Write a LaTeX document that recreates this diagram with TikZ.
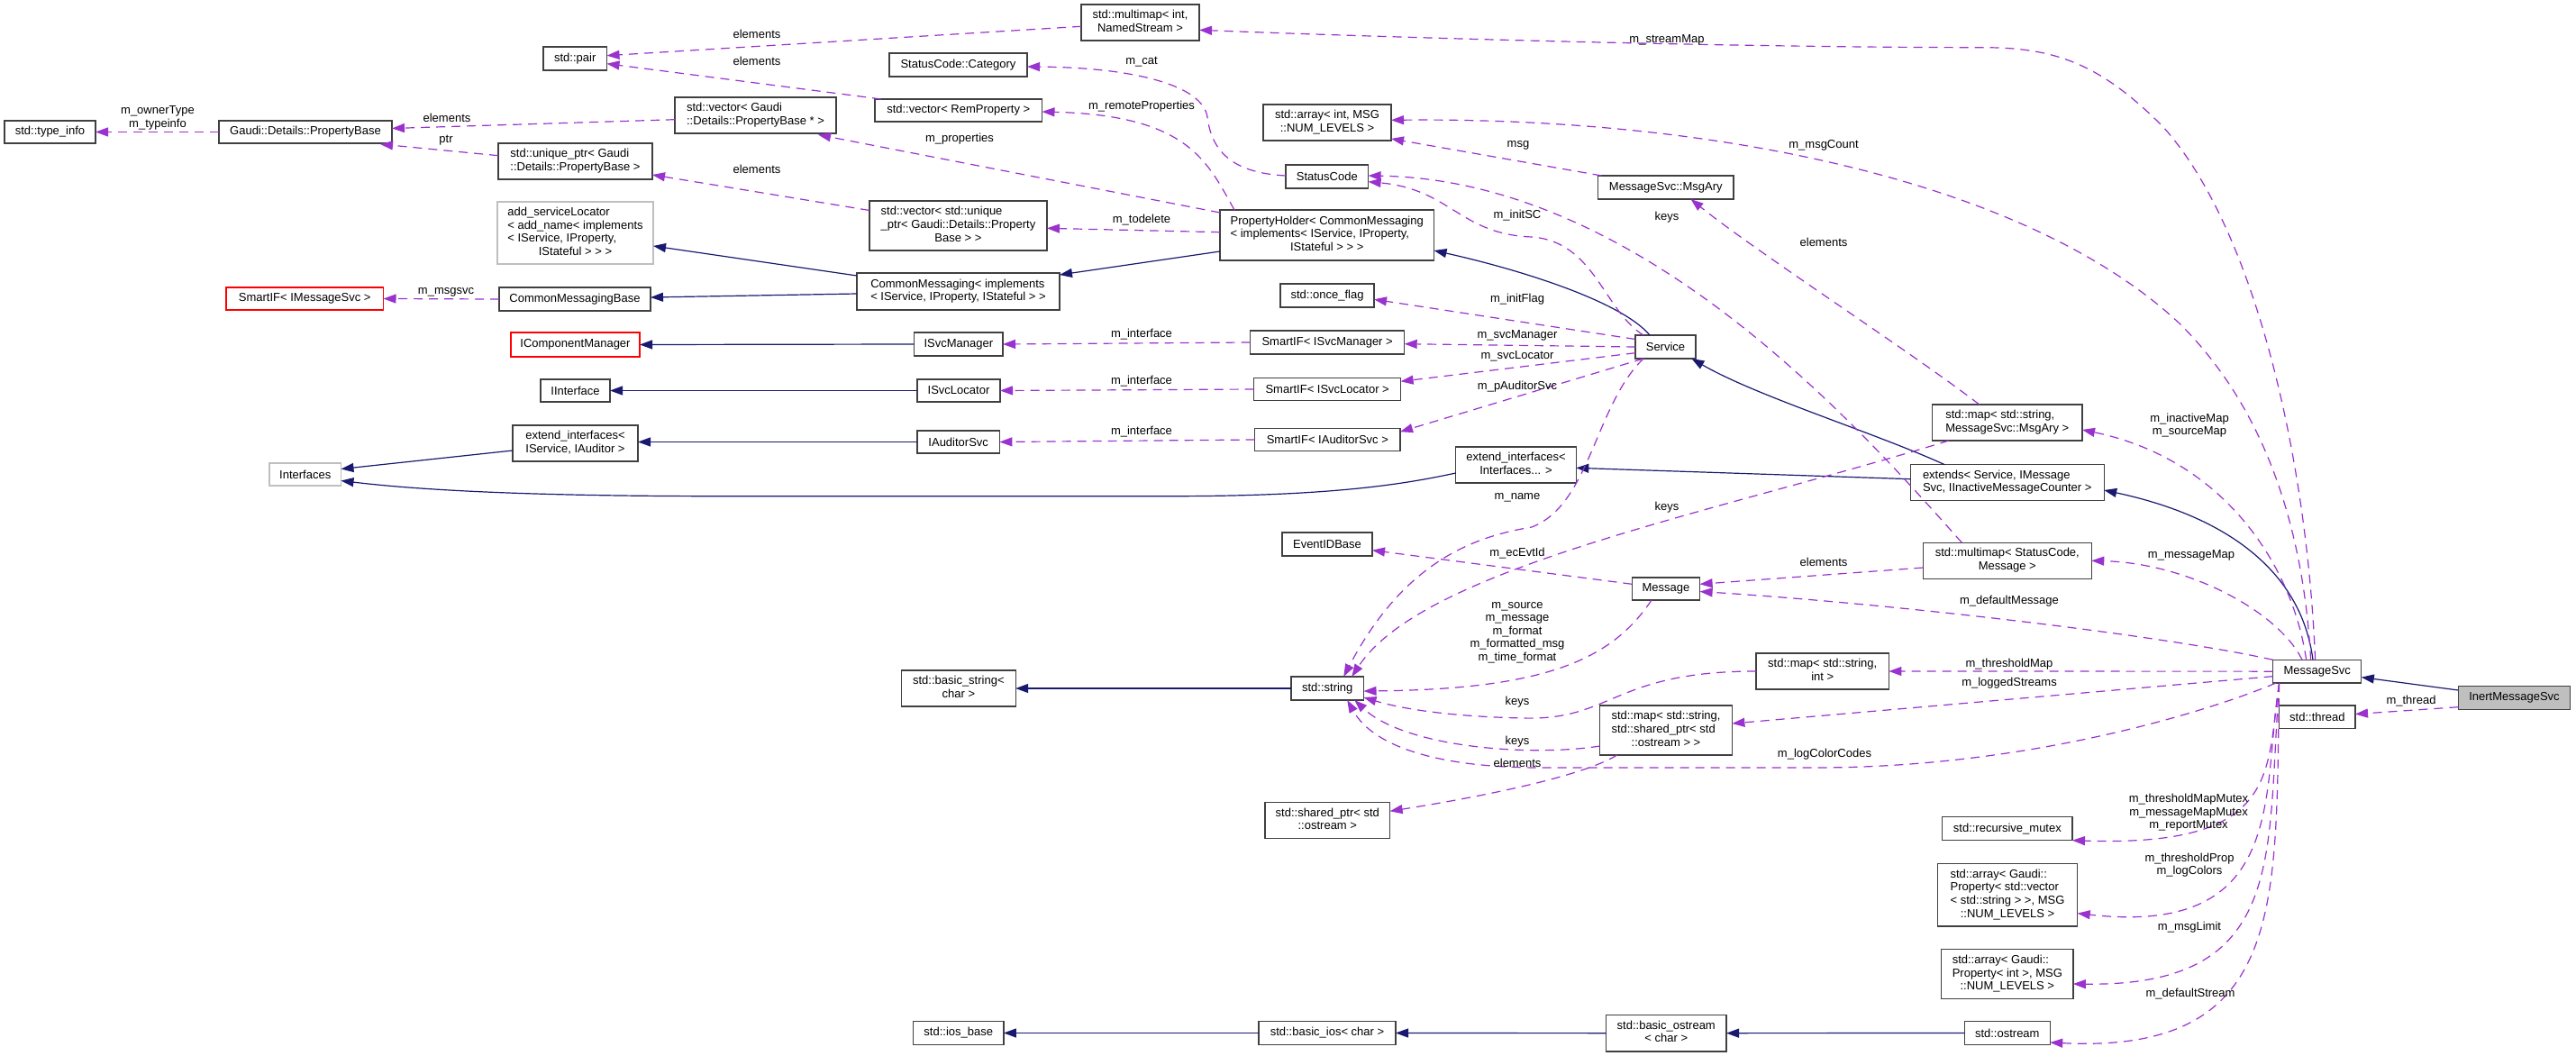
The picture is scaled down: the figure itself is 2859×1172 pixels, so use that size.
\documentclass[tikz,border=0pt]{standalone}
\usepackage{fontspec}
\setmainfont{Liberation Sans}
\usetikzlibrary{arrows.meta,calc}
\definecolor{edgeblue}{HTML}{191970}
\definecolor{edgepurple}{HTML}{9A32CD}
\definecolor{boxline}{HTML}{404040}
\definecolor{grayline}{HTML}{BFBFBF}
\definecolor{curfill}{HTML}{BFBFBF}
\newcommand{\mlines}[2]{\begin{tabular}{@{}l@{}}#1\\\multicolumn{1}{@{}c@{}}{#2}\end{tabular}}
\newcommand{\clsbox}[7]{\node[#6,minimum width={(#4)-(#2)},minimum height={(#5)-(#3)}] (#1) at ({((#2)+(#4))/2},{((#3)+(#5))/2}) {#7};}
\begin{document}
\begin{tikzpicture}[x=1pt,y=-1pt,font=\fontsize{13}{14.6}\selectfont,
  cls/.style={draw=boxline,line width=1.2pt,fill=white,inner sep=0pt,outer sep=0pt},
  grayb/.style={draw=grayline},
  redb/.style={draw=red},
  curb/.style={fill=curfill},
  inh/.style={draw=edgeblue,line width=1.2pt,-{Triangle[length=14pt,width=10pt]}},
  use/.style={draw=edgepurple,line width=1.2pt,dash pattern=on 10pt off 7pt,-{Triangle[length=14pt,width=10pt]}},
  lbl/.style={inner sep=0pt,align=center}]
\fill[white] (0,0) rectangle (2859,1172);
\useasboundingbox (0,0) rectangle (2859,1172);
% ---------------- nodes ----------------
\clsbox{tinfo}{5}{134}{106}{159}{cls}{std::type\_info}
\clsbox{pbase}{243}{134}{435}{159}{cls}{Gaudi::Details::PropertyBase}
\clsbox{pair}{603}{52}{673.5}{78}{cls}{std::pair}
\clsbox{uptr}{553}{159}{724}{199}{cls}{\mlines{std::unique\_ptr< Gaudi}{::Details::PropertyBase >}}
\clsbox{addsl}{552}{224}{725}{293}{cls,grayb}{\mlines{add\_serviceLocator\\< add\_name< implements\\< IService, IProperty,}{IStateful > > >}}
\clsbox{smimsg}{251}{319}{425.5}{344}{cls,redb}{SmartIF< IMessageSvc >}
\clsbox{cmbase}{554}{319}{722}{345}{cls}{CommonMessagingBase}
\clsbox{icm}{567}{369}{710}{396}{cls,redb}{IComponentManager}
\clsbox{mmns}{1200}{5}{1331}{45}{cls}{\mlines{std::multimap< int,}{NamedStream >}}
\clsbox{sccat}{987}{59}{1140}{85}{cls}{StatusCode::Category}
\clsbox{vpb}{749}{108}{928}{148}{cls}{\mlines{std::vector< Gaudi}{::Details::PropertyBase * >}}
\clsbox{vrem}{971}{110}{1156.5}{135}{cls}{std::vector< RemProperty >}
\clsbox{vuptr}{965}{223}{1162}{278}{cls}{\mlines{std::vector< std::unique\\\_ptr< Gaudi::Details::Property}{Base > >}}
\clsbox{cm}{951}{303}{1176}{344}{cls}{\mlines{CommonMessaging< implements}{< IService, IProperty, IStateful > >}}
\clsbox{isvcm}{1014.6}{369}{1113}{395}{cls}{ISvcManager}
\clsbox{ph}{1354}{233}{1591.5}{289}{cls}{\mlines{PropertyHolder< CommonMessaging\\< implements< IService, IProperty,}{IStateful > > >}}
\clsbox{smsvcm}{1387.6}{367}{1558.7}{393}{cls}{SmartIF< ISvcManager >}
\clsbox{arrint}{1402}{116}{1544}{156}{cls}{\mlines{std::array< int, MSG}{::NUM\_LEVELS >}}
\clsbox{sc}{1427}{183}{1518.6}{209}{cls}{StatusCode}
\clsbox{msgary}{1773.5}{195}{1924}{221}{cls}{MessageSvc::MsgAry}
\clsbox{once}{1421}{315}{1525}{341}{cls}{std::once\_flag}
\clsbox{svc}{1815}{372}{1882}{398}{cls}{Service}
\clsbox{iint}{600}{421}{677}{446}{cls}{IInterface}
\clsbox{extia}{569}{472}{708}{512}{cls}{\mlines{extend\_interfaces<}{IService, IAuditor >}}
\clsbox{ifaces}{299}{514}{378.5}{539}{cls,grayb}{Interfaces}
\clsbox{isvcl}{1018}{421}{1110}{446}{cls}{ISvcLocator}
\clsbox{iaud}{1018}{478}{1109.4}{503}{cls}{IAuditorSvc}
\clsbox{bstr}{1000.5}{744}{1127.2}{784}{cls}{\mlines{std::basic\_string<}{char >}}
\clsbox{smsvcl}{1391.7}{419.5}{1554.6}{444.5}{cls}{SmartIF< ISvcLocator >}
\clsbox{smaud}{1392.7}{475.5}{1554}{500.5}{cls}{SmartIF< IAuditorSvc >}
\clsbox{extii}{1615.7}{496}{1749.3}{536}{cls}{\mlines{extend\_interfaces<}{Interfaces... >}}
\clsbox{evid}{1423}{591}{1523}{617}{cls}{EventIDBase}
\clsbox{msg}{1811.3}{641}{1886.6}{666}{cls}{Message}
\clsbox{str}{1433}{751}{1513.5}{777}{cls}{std::string}
\clsbox{mapsi}{1949}{725}{2096.4}{765}{cls}{\mlines{std::map< std::string,}{int >}}
\clsbox{mapsp}{1775.6}{783}{1922.4}{838}{cls}{\mlines{std::map< std::string,\\std::shared\_ptr< std}{::ostream > >}}
\clsbox{mapma}{2144.5}{449}{2311}{489}{cls}{\mlines{std::map< std::string,}{MessageSvc::MsgAry >}}
\clsbox{ext}{2120.3}{515.7}{2335.2}{555.7}{cls}{\mlines{extends< Service, IMessage}{Svc, IInactiveMessageCounter >}}
\clsbox{mmsc}{2134.4}{602.3}{2321.2}{642.3}{cls}{\mlines{std::multimap< StatusCode,}{Message >}}
\clsbox{msvc}{2522.6}{732.3}{2620.8}{758}{cls}{MessageSvc}
\clsbox{inert}{2728.3}{761.7}{2852.7}{787.3}{cls,curb}{InertMessageSvc}
\clsbox{thr}{2529.8}{783}{2614}{808.7}{cls}{std::thread}
\clsbox{spo}{1404}{890.3}{1542.6}{930.7}{cls}{\mlines{std::shared\_ptr< std}{::ostream >}}
\clsbox{bios}{1397}{1133.7}{1549}{1159.3}{cls}{std::basic\_ios< char >}
\clsbox{bos}{1782.5}{1126.3}{1916}{1167}{cls}{\mlines{std::basic\_ostream}{< char >}}
\clsbox{rmut}{2155.7}{906.7}{2300}{932.7}{cls}{std::recursive\_mutex}
\clsbox{arrv}{2150.3}{958.7}{2305.7}{1028}{cls}{\mlines{std::array< Gaudi::\\Property< std::vector\\< std::string > >, MSG}{::NUM\_LEVELS >}}
\clsbox{arri}{2154.7}{1053.7}{2300.9}{1108.7}{cls}{\mlines{std::array< Gaudi::\\Property< int >, MSG}{::NUM\_LEVELS >}}
\clsbox{ostr}{2180.3}{1133.7}{2275.2}{1159.3}{cls}{std::ostream}
\clsbox{iosb}{1013.6}{1133.7}{1113.9}{1159.3}{cls}{std::ios\_base}
% ---------------- inheritance ----------------
\draw[inh] ($(cm.north west)+(0,3)$) -- ($(addsl.east)+(0,14.5)$);
\draw[inh] ($(cm.west)+(0,2.5)$) -- ($(cmbase.east)+(0,-2)$);
\draw[inh] ($(ph.west)+(0,18)$) -- ($(cm.east)+(0,-18.5)$);
\draw[inh] (isvcm.west) -- (icm.east);
\draw[inh] (isvcl.west) -- (iint.east);
\draw[inh] (iaud.west) -- ($(extia.east)+(0,-1.5)$);
\draw[inh] ($(extia.west)+(0,8)$) -- ($(ifaces.east)+(0,-6)$);
\draw[inh] ($(extii.west)+(0,9)$) .. controls (1560,537) and (1480,550.7) .. (1300,550.7) -- (800,550.7) .. controls (560,550.7) and (450,542) .. ($(ifaces.east)+(0,7)$);
\draw[inh] ($(svc.north west)+(16,0)$) .. controls (1800,335) and (1690,300) .. ($(ph.east)+(0,17)$);
\draw[inh] ($(ext.north west)+(38,0)$) .. controls (2080,480) and (1950,440) .. ($(svc.south east)+(-4.6,0)$);
\draw[inh] ($(ext.west)+(0,-4)$) -- ($(extii.east)+(0,3.3)$);
\draw[inh] ($(msvc.north west)+(44.4,0)$) .. controls (2555,640) and (2480,575) .. ($(ext.east)+(0,8.3)$);
\draw[inh] ($(inert.west)+(0,-8.5)$) -- ($(msvc.east)+(0,6.5)$);
\draw[inh] (str.west) -- (bstr.east);
\draw[inh] (bios.west) -- (iosb.east);
\draw[inh] (bos.west) -- (bios.east);
\draw[inh] (ostr.west) -- (bos.east);
% ---------------- usage ----------------
\draw[use] (pbase.west) -- (tinfo.east);
\draw[use] ($(vpb.west)+(0,4.7)$) -- ($(pbase.east)+(0,-4)$);
\draw[use] ($(uptr.west)+(0,-6.3)$) -- ($(pbase.south east)+(-13,1)$);
\draw[use] ($(mmns.west)+(0,4.3)$) -- ($(pair.east)+(0,-3.3)$);
\draw[use] ($(vrem.north west)+(7,0)$) -- ($(pair.east)+(0,5.7)$);
\draw[use] ($(vuptr.west)+(0,-17)$) -- ($(uptr.east)+(0,15)$);
\draw[use] ($(ph.north west)+(0,3)$) -- ($(vpb.south east)+(-20,1.5)$);
\draw[use] ($(ph.north west)+(16,0)$) .. controls (1340,180) and (1320,128) .. ($(vrem.east)+(0,1.5)$);
\draw[use] ($(sc.west)+(0,-1)$) .. controls (1370,192) and (1345,170) .. (1340,130) .. controls (1335,95) and (1260,75) .. ($(sccat.east)+(0,2)$);
\draw[use] ($(ph.west)+(0,-3.3)$) -- ($(vuptr.east)+(0,2.8)$);
\draw[use] (cmbase.west) -- (smimsg.east);
\draw[use] (smsvcm.west) -- (isvcm.east);
\draw[use] (smsvcl.west) -- (isvcl.east);
\draw[use] (smaud.west) -- (iaud.east);
\draw[use] ($(svc.north west)+(9,0)$) .. controls (1780,345) and (1770,268) .. (1700,263) .. controls (1620,260) and (1610,210) .. ($(sc.east)+(0,5.7)$);
\draw[use] ($(mmsc.north west)+(43,0)$) .. controls (2060,470) and (1820,200) .. ($(sc.east)+(0,-1)$);
\draw[use] ($(mapma.north west)+(52.3,0)$) .. controls (2120,390) and (1950,280) .. ($(msgary.south west)+(103,0)$);
\draw[use] ($(msgary.north west)+(4,0)$) -- ($(arrint.south east)+(0,-2)$);
\draw[use] ($(msvc.north west)+(42,0)$) .. controls (2555,560) and (2500,440) .. (2420,360) .. controls (2250,200) and (1900,130) .. ($(arrint.east)+(0,-2.7)$);
\draw[use] ($(msvc.north west)+(47,0)$) .. controls (2560,500) and (2500,250) .. (2400,140) .. controls (2330,70) and (2280,52.7) .. (2200,52.7) .. controls (1900,52.7) and (1500,40) .. ($(mmns.east)+(0,8.3)$);
\draw[use] ($(msvc.north west)+(37,0)$) .. controls (2545,630) and (2470,510) .. ($(mapma.east)+(0,8)$);
\draw[use] ($(msvc.north west)+(32.4,0)$) .. controls (2530,680) and (2430,625) .. (mmsc.east);
\draw[use] (msvc.north west) .. controls (2400,705) and (2100,670) .. ($(msg.east)+(0,3)$);
\draw[use] ($(mmsc.west)+(0,7.7)$) -- ($(msg.east)+(0,-5.2)$);
\draw[use] (msvc.west) -- (mapsi.east);
\draw[use] ($(msvc.west)+(0,5.5)$) -- ($(mapsp.east)+(0,-7.5)$);
\draw[use] ($(msvc.south west)+(3.4,0)$) .. controls (2450,790) and (2250,852) .. (2015,852) -- (1710,852) .. controls (1600,852) and (1525,830) .. ($(str.south)+(22,0)$);
\draw[use] (mapsi.west) .. controls (1790,745) and (1790,800) .. (1690,797) .. controls (1600,795) and (1550,785) .. ($(str.east)+(0,10)$);
\draw[use] ($(mapsp.west)+(0,17.5)$) .. controls (1700,840) and (1560,830) .. ($(str.south)+(30,0)$);
\draw[use] ($(mapsp.south west)+(19.2,0)$) .. controls (1750,865) and (1620,888) .. ($(spo.east)+(0,-10.2)$);
\draw[use] ($(msg.south west)+(21.7,0)$) .. controls (1790,730) and (1720,765) .. ($(str.east)+(0,3)$);
\draw[use] ($(msg.west)+(0,-5.2)$) -- ($(evid.east)+(0,6.7)$);
\draw[use] ($(svc.south west)+(9,0)$) .. controls (1770,450) and (1765,560) .. (1700,585) .. controls (1640,595) and (1560,620) .. ($(str.north)+(18,0)$);
\draw[use] ($(mapma.south west)+(18.5,0)$) .. controls (1900,570) and (1580,630) .. ($(str.north)+(27,0)$);
\draw[use] ($(svc.west)+(0,-8.5)$) -- ($(once.east)+(0,4.3)$);
\draw[use] (svc.west) -- ($(smsvcm.east)+(0,1.7)$);
\draw[use] ($(svc.west)+(0,6.7)$) -- ($(smsvcl.east)+(0,-8.7)$);
\draw[use] ($(svc.south west)+(9,0)$) -- ($(smaud.east)+(0,-8.8)$);
\draw[use] ($(inert.west)+(0,10.2)$) -- ($(thr.east)+(0,-3.3)$);
\draw[use] ($(msvc.south west)+(7,0)$) .. controls (2515,860) and (2530,940) .. ($(rmut.east)+(0,13)$);
\draw[use] ($(msvc.south west)+(7,0)$) .. controls (2510,880) and (2540,1040) .. ($(arrv.east)+(0,20.3)$);
\draw[use] ($(msvc.south west)+(7,0)$) .. controls (2515,950) and (2540,1095) .. ($(arri.east)+(0,10.8)$);
\draw[use] ($(msvc.south west)+(7,0)$) .. controls (2525,1000) and (2540,1170) .. ($(ostr.east)+(0,10.5)$);
% ---------------- labels ----------------
\node[lbl] (l1) at (175,131) {m\_ownerType\\m\_typeinfo};
\node[lbl] (l2) at (496,131) {elements};
\node[lbl] (l3) at (495,156) {ptr};
\node[lbl] (l4) at (840,38) {elements};
\node[lbl] (l5) at (840,68) {elements};
\node[lbl] (l6) at (840,188) {elements};
\node[lbl] (l7) at (1267,69) {m\_cat};
\node[lbl] (l8) at (1267,118) {m\_remoteProperties};
\node[lbl] (l9) at (1065,154) {m\_properties};
\node[lbl] (l10) at (1267,244) {m\_todelete};
\node[lbl] (l11) at (495,324) {m\_msgsvc};
\node[lbl] (l12) at (1267,371) {m\_interface};
\node[lbl] (l13) at (1267,423) {m\_interface};
\node[lbl] (l14) at (1267,479) {m\_interface};
\node[lbl] (l15) at (1850,44) {m\_streamMap};
\node[lbl] (l16) at (1685,161) {msg};
\node[lbl] (l17) at (2024,161) {m\_msgCount};
\node[lbl] (l18) at (1684,239) {m\_initSC};
\node[lbl] (l19) at (1850,241) {keys};
\node[lbl] (l20) at (2024,269) {elements};
\node[lbl] (l21) at (1684,332) {m\_initFlag};
\node[lbl] (l22) at (1684,372) {m\_svcManager};
\node[lbl] (l23) at (1684,395) {m\_svcLocator};
\node[lbl] (l24) at (1684,429) {m\_pAuditorSvc};
\node[lbl] (l25) at (1684,552) {m\_name};
\node[lbl] (l26) at (1850,563) {keys};
\node[lbl] (l27) at (1684,614) {m\_ecEvtId};
\node[lbl] (l28) at (2024,624) {elements};
\node[lbl] (l29) at (1684,702) {m\_source\\m\_message\\m\_format\\m\_formatted\_msg\\m\_time\_format};
\node[lbl] (l30) at (1684,779) {keys};
\node[lbl] (l31) at (1684,823) {keys};
\node[lbl] (l32) at (1684,847) {elements};
\node[lbl] (l33) at (2430,472) {m\_inactiveMap\\m\_sourceMap};
\node[lbl] (l34) at (2432,616) {m\_messageMap};
\node[lbl] (l35) at (2230,667) {m\_defaultMessage};
\node[lbl] (l36) at (2230,737) {m\_thresholdMap};
\node[lbl] (l37) at (2230,758) {m\_loggedStreams};
\node[lbl] (l38) at (2025,837) {m\_logColorCodes};
\node[lbl] (l39) at (2676,778) {m\_thread};
\node[lbl] (l40) at (2429,902) {m\_thresholdMapMutex\\m\_messageMapMutex\\m\_reportMutex};
\node[lbl] (l41) at (2430,960) {m\_thresholdProp\\m\_logColors};
\node[lbl] (l42) at (2430,1029) {m\_msgLimit};
\node[lbl] (l43) at (2431,1103) {m\_defaultStream};
\end{tikzpicture}
\end{document}
